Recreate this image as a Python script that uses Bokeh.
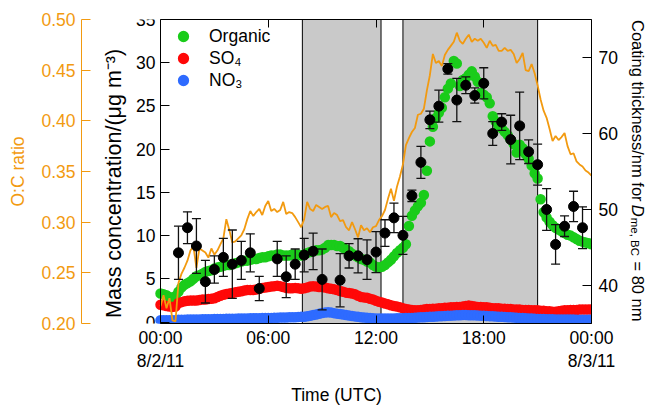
import numpy as np
from bokeh.plotting import figure
from bokeh.layouts import row
from bokeh.models import (Range1d, LinearAxis, FixedTicker, PrintfTickFormatter,
                          Legend, LegendItem)
from bokeh.core.properties import value
from bokeh.embed import file_html
from bokeh.resources import INLINE

# ---------------- data ----------------
# 10-minute resolution series, 00:00 8/2/11 .. 00:00 8/3/11 (hours since start = index/6)
organic = [
    3.3, 3.2, 3.1, 2.9, 2.8, 3.0,
    3.5, 4.0, 4.3, 4.5, 4.7, 5.0,
    5.3, 5.4, 5.6, 5.8, 5.9, 6.0,
    6.2, 6.3, 6.4, 6.5, 6.6, 6.6,
    6.7, 6.8, 6.9, 7.0, 7.1, 7.1,
    7.2, 7.3, 7.3, 7.4, 7.5, 7.5,
    7.6, 7.7, 7.7, 7.8, 7.8, 7.7,
    7.7, 7.7, 7.8, 7.8, 7.8, 7.7,
    7.8, 8.0, 8.1, 8.2, 8.3, 8.3,
    8.4, 8.6, 8.9, 8.9, 8.9, 8.8,
    8.8, 8.6, 8.4, 8.2, 7.9, 7.7,
    7.5, 7.3, 7.2, 7.0, 6.9, 6.6,
    6.4, 6.3, 6.4, 6.6, 6.9, 7.2,
    7.6, 8.0, 8.3, 8.6, 9.0, 11.1,
    12.3, 12.9, 13.4, 13.8, 14.7, 17.5,
    20.9, 22.6, 23.6, 24.2, 24.8, 26.0,
    27.0, 27.6, 30.2, 29.9, 27.3, 28.0,
    28.2, 28.6, 29.0, 28.4, 27.8, 26.5,
    26.3, 26.0, 25.3, 23.8, 23.2, 22.6,
    22.4, 22.0, 21.6, 21.1, 20.6, 19.6,
    20.5, 20.1, 19.4, 18.9, 18.1, 17.2,
    16.6, 14.2, 12.7, 12.1, 11.6, 11.2,
    10.9, 10.7, 10.5, 10.3, 10.1, 10.0,
    9.8, 9.6, 9.4, 9.3, 9.2, 9.1,
    9.0,
]
so4 = [
    2.0, 1.95, 1.85, 1.8, 1.75, 1.8,
    2.2, 2.3, 2.4, 2.45, 2.5, 2.5,
    2.5, 2.55, 2.6, 2.6, 2.65, 2.7,
    2.75, 2.9, 3.05, 3.15, 3.25, 3.3,
    3.35, 3.45, 3.5, 3.55, 3.65, 3.7,
    3.7, 3.7, 3.75, 3.85, 3.95, 4.0,
    4.05, 4.1, 4.15, 4.2, 4.15, 4.05,
    3.95, 3.9, 3.9, 3.95, 3.9, 3.85,
    3.9, 4.0, 4.1, 4.15, 4.1, 4.05,
    4.05, 4.0, 3.9, 3.85, 3.8, 3.7,
    3.6, 3.5, 3.4, 3.35, 3.3, 3.2,
    3.05, 2.9, 2.85, 2.8, 2.7, 2.6,
    2.45, 2.35, 2.25, 2.15, 2.05, 1.95,
    1.85, 1.8, 1.7, 1.6, 1.5, 1.45,
    1.4, 1.35, 1.35, 1.4, 1.45, 1.5,
    1.5, 1.55, 1.55, 1.6, 1.6, 1.65,
    1.65, 1.7, 1.7, 1.75, 1.75, 1.8,
    1.85, 1.9, 1.85, 1.8, 1.75, 1.75,
    1.7, 1.7, 1.65, 1.6, 1.6, 1.6,
    1.55, 1.55, 1.5, 1.5, 1.45, 1.45,
    1.45, 1.4, 1.4, 1.4, 1.35, 1.35,
    1.35, 1.3, 1.3, 1.25, 1.25, 1.2,
    1.2, 1.25, 1.3, 1.35, 1.35, 1.4,
    1.4, 1.4, 1.45, 1.45, 1.45, 1.45,
    1.45,
]
no3 = [
    0.20, 0.20, 0.20, 0.20, 0.20, 0.22,
    0.25, 0.26, 0.27, 0.28, 0.28, 0.29,
    0.30, 0.30, 0.31, 0.32, 0.33, 0.33,
    0.34, 0.35, 0.35, 0.36, 0.37, 0.38,
    0.38, 0.39, 0.40, 0.40, 0.41, 0.42,
    0.43, 0.44, 0.45, 0.45, 0.46, 0.47,
    0.48, 0.48, 0.49, 0.50, 0.51, 0.52,
    0.53, 0.54, 0.55, 0.56, 0.58, 0.60,
    0.62, 0.66, 0.72, 0.80, 0.88, 0.96,
    1.04, 1.10, 1.14, 1.10, 1.03, 0.97,
    0.92, 0.86, 0.80, 0.75, 0.70, 0.65,
    0.60, 0.56, 0.52, 0.49, 0.46, 0.44,
    0.42, 0.41, 0.40, 0.40, 0.40, 0.41,
    0.42, 0.43, 0.44, 0.45, 0.46, 0.47,
    0.48, 0.50, 0.52, 0.54, 0.56, 0.58,
    0.60, 0.62, 0.64, 0.66, 0.68, 0.70,
    0.72, 0.74, 0.76, 0.78, 0.79, 0.80,
    0.80, 0.79, 0.78, 0.77, 0.76, 0.74,
    0.72, 0.70, 0.68, 0.66, 0.64, 0.62,
    0.60, 0.58, 0.56, 0.54, 0.52, 0.50,
    0.48, 0.46, 0.44, 0.42, 0.40, 0.38,
    0.36, 0.35, 0.34, 0.33, 0.32, 0.31,
    0.30, 0.30, 0.29, 0.29, 0.28, 0.28,
    0.28, 0.27, 0.27, 0.27, 0.26, 0.26,
    0.26,
]
oc_ratio = [
    0.217, 0.228, 0.215, 0.225, 0.203, 0.202,
    0.240, 0.249, 0.255, 0.262, 0.272, 0.276,
    0.255, 0.274, 0.272, 0.270, 0.265, 0.274,
    0.268, 0.272, 0.278, 0.284, 0.303, 0.292,
    0.280, 0.281, 0.284, 0.287, 0.293, 0.303,
    0.311, 0.306, 0.310, 0.313, 0.307, 0.316,
    0.321, 0.311, 0.313, 0.310, 0.312, 0.320,
    0.308, 0.310, 0.309, 0.305, 0.300, 0.295,
    0.303, 0.320, 0.313, 0.311, 0.317, 0.315,
    0.313, 0.315, 0.316, 0.305, 0.309, 0.307,
    0.301, 0.302, 0.295, 0.292, 0.300, 0.293,
    0.285, 0.297, 0.292, 0.294, 0.290, 0.295,
    0.296, 0.302, 0.306, 0.312, 0.323, 0.333,
    0.321, 0.335, 0.345, 0.357, 0.376, 0.383,
    0.389, 0.393, 0.406, 0.407, 0.412, 0.430,
    0.445, 0.466, 0.457, 0.459, 0.454, 0.465,
    0.470, 0.474, 0.478, 0.487, 0.479, 0.476,
    0.481, 0.485, 0.478, 0.481, 0.479, 0.481,
    0.477, 0.472, 0.479, 0.474, 0.475, 0.469,
    0.469, 0.472, 0.469, 0.470, 0.466, 0.457,
    0.461, 0.467, 0.450, 0.449, 0.456, 0.447,
    0.435, 0.421, 0.410, 0.403, 0.392, 0.380,
    0.385, 0.381, 0.384, 0.388, 0.375, 0.367,
    0.368, 0.360, 0.357, 0.355, 0.351, 0.349,
    0.346,
]
# coating thickness (nm), half-hourly, with error bars
coat_time = [1.0, 1.5, 2.0, 2.5, 3.0, 3.5, 4.0, 4.5, 5.0, 5.5,
             6.5, 7.0, 7.5, 8.0, 8.5, 9.0,
             10.0, 10.5, 11.0, 11.5, 12.0,
             12.5, 13.0, 13.5, 14.0, 14.5, 15.0, 15.5, 16.0, 16.5, 17.0, 17.5,
             18.0, 18.5, 19.0, 19.5, 20.0, 20.5, 21.0, 21.5, 22.0, 22.5, 23.0, 23.5]
coat = [44.3, 47.6, 45.2, 40.5, 42.1, 43.7, 42.8, 43.3, 44.3, 39.6,
        43.5, 41.15, 42.8, 44.0, 44.5, 40.8,
        40.7, 43.9, 43.9, 43.4, 44.4,
        46.9, 48.9, 46.6, 51.8, 56.2, 61.8, 63.6, 68.5, 64.4, 66.35, 65.0,
        66.6, 60.0, 61.5, 59.2, 61.0, 57.6, 55.9, 50.0, 45.4, 47.8, 50.4, 47.6]
coat_err = [3.5, 2.1, 3.6, 2.8, 1.8, 2.5, 4.5, 2.5, 2.5, 1.6,
            2.3, 2.75, 2.0, 2.2, 2.4, 4.0,
            3.5, 1.6, 2.25, 2.6, 2.7,
            1.75, 1.95, 2.5, 0.75, 2.1, 1.15, 2.1, 0.7, 2.85, 1.1, 1.0,
            2.05, 1.55, 1.1, 3.2, 4.45, 1.55, 2.7, 2.75, 2.6, 1.35, 2.0, 2.75]
# shaded periods (hours)
shade_start = [7.9, 13.5]
shade_end = [12.28, 21.0]

x_ticks = [0, 6, 12, 18, 24]
x_tick_labels = ["00:00\n8/2/11", "06:00", "12:00", "18:00", "00:00\n8/3/11"]
mass_ticks = [0, 5, 10, 15, 20, 25, 30, 35]
oc_ticks = [0.20, 0.25, 0.30, 0.35, 0.40, 0.45, 0.50]
coat_ticks = [40, 50, 60, 70]

# right-hand axis title pieces (main text, italic symbol, subscript, tail)
coat_title_parts = ["Coating thickness/nm for ", "D", "me, BC", "= 80 nm"]

# ---------------- styling ----------------
FONT = "Liberation Sans"
FS = "17.5px"
GREEN = "#1ACC1A"
RED = "#FF0808"
BLUE = "#2E6BFF"
ORANGE = "#F29A10"
GRAY = "#C9C9C9"

T0, T1 = 0, 24                      # time span of the data (hours)
MASS_LO, MASS_HI = -0.17, 35
MAIN_W, SIDE_W, H = 622, 31, 407
OC_AXIS_X = 81                      # page px of the O:C axis line
DATA_LEFT, F_RIGHT, F_TOP, F_BOTTOM = 160, 591, 19, 325   # page px
PX_PER_HOUR = (F_RIGHT - DATA_LEFT) / (T1 - T0)
X_START = T0 - (DATA_LEFT - OC_AXIS_X) / PX_PER_HOUR       # frame starts at O:C axis

fig = figure(width=MAIN_W, height=H, output_backend="svg", toolbar_location=None,
             x_range=Range1d(X_START, T1), y_range=Range1d(MASS_LO, MASS_HI),
             min_border_left=OC_AXIS_X, min_border_right=MAIN_W - F_RIGHT,
             min_border_top=F_TOP, min_border_bottom=H - F_BOTTOM)
fig.extra_y_ranges = {"oc": Range1d(0.2, 0.5), "coat": Range1d(35, 75)}
fig.xgrid.visible = False
fig.ygrid.visible = False
fig.outline_line_color = None
fig.background_fill_color = "white"
fig.border_fill_color = "white"


def style_axis(ax, color="black"):
    ax.major_tick_in = 9
    ax.major_tick_out = 0
    ax.minor_tick_in = 0
    ax.minor_tick_out = 0
    ax.minor_tick_line_color = None
    ax.axis_line_color = color
    ax.major_tick_line_color = color
    ax.major_label_text_color = color
    ax.axis_label_text_color = color
    ax.major_label_text_font = FONT
    ax.major_label_text_font_size = FS
    ax.axis_label_text_font = FONT
    ax.axis_label_text_font_size = FS
    ax.axis_label_text_font_style = "normal"


# bottom axis (line limited to the data span)
xa = fig.xaxis[0]
xa.ticker = FixedTicker(ticks=x_ticks)
xa.bounds = (T0, T1)
xa.major_label_overrides = {t: l for t, l in zip(x_ticks, x_tick_labels)}
style_axis(xa)
xa.major_tick_in = 8
xa.major_label_standoff = 4
xa.major_label_text_line_height = 1.15
xa.axis_label = "Time (UTC)"
xa.axis_label_standoff = 11

# top mirror axis (ticks only)
xt = LinearAxis(ticker=FixedTicker(ticks=x_ticks), bounds=(T0, T1))
style_axis(xt)
xt.major_tick_in = 8
xt.major_label_text_font_size = "0px"
xt.major_label_text_alpha = 0
xt.major_label_standoff = 0
fig.add_layout(xt, "above")

# left-panel axis: O:C ratio (sits at the frame's left edge)
ya = fig.yaxis[0]
ya.y_range_name = "oc"
ya.ticker = FixedTicker(ticks=oc_ticks)
ya.formatter = PrintfTickFormatter(format="%.2f")
style_axis(ya, ORANGE)
ya.major_label_standoff = 6
ya.axis_label = "O:C ratio"
ya.axis_label_standoff = 10

# mass concentration axis, drawn at t = 0
ma = LinearAxis(ticker=FixedTicker(ticks=mass_ticks), fixed_location=T0)
style_axis(ma)
ma.major_label_standoff = 5
ma.axis_label = "Mass concentration/(\u03bcg m\u207b\u00b3)" + "\u00a0" * 4
ma.axis_label_text_font_size = "21.5px"
ma.axis_label_standoff = 7
fig.add_layout(ma, "left")

# right coating axis
ra = LinearAxis(y_range_name="coat", ticker=FixedTicker(ticks=coat_ticks))
style_axis(ra)
ra.major_label_standoff = 7
fig.add_layout(ra, "right")

# ---------------- glyphs ----------------
fig.quad(left=shade_start, right=shade_end, bottom=MASS_LO, top=MASS_HI,
         fill_color=GRAY, line_color="black", line_width=1)

# filled circles with an outline of the same colour (visual diameter ~10.5 px)
MK = dict(size=8, line_width=2.5)
t = np.arange(len(organic)) / 6.0
r_org = fig.scatter(t, organic, fill_color=GREEN, line_color=GREEN, **MK)
t2 = np.arange(len(so4)) / 6.0
r_so4 = fig.scatter(t2, so4, fill_color=RED, line_color=RED, **MK)
t3 = np.arange(len(no3)) / 6.0
r_no3 = fig.scatter(t3, no3, fill_color=BLUE, line_color=BLUE, **MK)

t4 = np.arange(len(oc_ratio)) / 6.0
fig.line(t4, oc_ratio, y_range_name="oc", color=ORANGE, line_width=1.8)

ct = np.array(coat_time)
cv = np.array(coat)
ce = np.array(coat_err)
fig.segment(x0=ct, y0=cv - ce, x1=ct, y1=cv + ce, y_range_name="coat",
            color="#111111", line_width=1.3)
fig.scatter(ct, cv + ce, marker="dash", size=9, y_range_name="coat",
            line_color="#111111", line_width=1.3)
fig.scatter(ct, cv - ce, marker="dash", size=9, y_range_name="coat",
            line_color="#111111", line_width=1.3)
fig.scatter(ct, cv, size=10, color="black", y_range_name="coat")

# ---------------- legend ----------------
ROW_H, GLYPH_W = 22, 38
legend = Legend(items=[LegendItem(label="Organic", renderers=[r_org]),
                       LegendItem(label="SO\u2084", renderers=[r_so4]),
                       LegendItem(label="NO\u2083", renderers=[r_no3])],
                location=(164 - OC_AXIS_X, F_BOTTOM - (27 + 3 * ROW_H)),
                border_line_color=None,
                background_fill_alpha=0, label_text_font=FONT,
                label_text_font_size=FS, label_text_color="black",
                glyph_width=GLYPH_W, glyph_height=ROW_H,
                label_height=ROW_H, spacing=0, margin=0, padding=0,
                label_standoff=7)
fig.add_layout(legend)

# ---------------- right axis title panel (italic D, subscript) ----------------
# narrow companion canvas; its frame spans the same rows as the main frame and
# its coordinates are page pixels (y measured upward from the page bottom)
side = figure(width=SIDE_W, height=H, output_backend="svg", toolbar_location=None,
              x_range=Range1d(MAIN_W, MAIN_W + SIDE_W),
              y_range=Range1d(H - F_BOTTOM, H - F_TOP),
              x_axis_location=None, y_axis_location=None,
              min_border_left=0, min_border_right=0,
              min_border_top=F_TOP, min_border_bottom=H - F_BOTTOM,
              outline_line_color=None)
side.grid.visible = False
side.background_fill_color = "white"
side.border_fill_color = "white"

BASE_X = 637          # baseline (page px) of the rotated title
TFS = "16.5px"
title_kw = dict(angle=-np.pi / 2, text_font=value(FONT), text_color="black",
                text_align="left", text_baseline="alphabetic")
side.text(x=[BASE_X], y=[H - 19.5], text=[coat_title_parts[0]],
          text_font_size=value(TFS), **title_kw)
side.text(x=[BASE_X], y=[H - 205.5], text=[coat_title_parts[1]],
          text_font_size=value(TFS), text_font_style="italic", **title_kw)
side.text(x=[BASE_X - 3], y=[H - 218.5], text=[coat_title_parts[2]],
          text_font_size=value("11.5px"), **title_kw)
side.text(x=[BASE_X], y=[H - 262.5], text=[coat_title_parts[3]],
          text_font_size=value(TFS), **title_kw)

p = row(fig, side)
open("out.html", "w").write(file_html(p, INLINE))
